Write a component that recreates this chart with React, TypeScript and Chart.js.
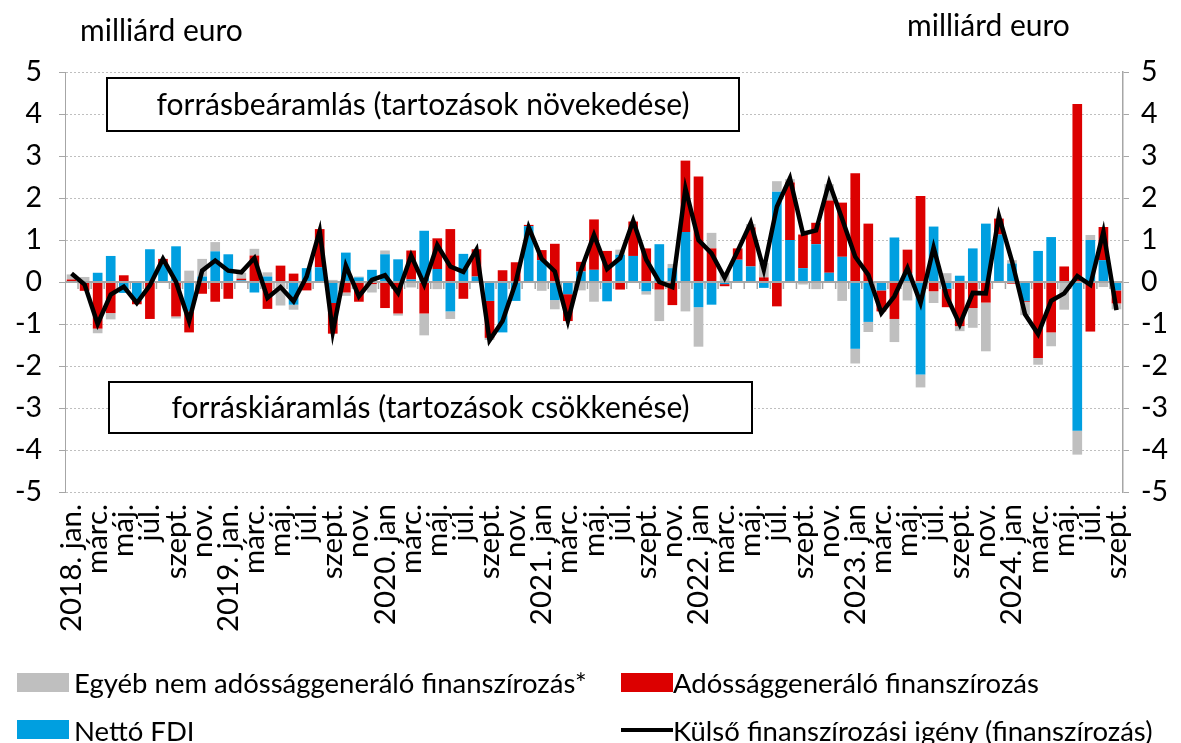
import React, { useEffect, useRef } from 'react';
import { Chart, registerables } from 'chart.js';

Chart.register(...registerables);

const FONT = 'Lato, "Open Sans", sans-serif';

const categories = [
  '2018. jan.', 'febr.', 'márc.', 'ápr.', 'máj.', 'jún.', 'júl.', 'aug.', 'szept.', 'okt.', 'nov.', 'dec.',
  '2019. jan.', 'febr.', 'márc.', 'ápr.', 'máj.', 'jún.', 'júl.', 'aug.', 'szept.', 'okt.', 'nov.', 'dec.',
  '2020. jan', 'febr.', 'márc.', 'ápr.', 'máj.', 'jún.', 'júl.', 'aug.', 'szept.', 'okt.', 'nov.', 'dec.',
  '2021. jan', 'febr.', 'márc.', 'ápr.', 'máj.', 'jún.', 'júl.', 'aug.', 'szept.', 'okt.', 'nov.', 'dec.',
  '2022. jan', 'febr.', 'márc.', 'ápr.', 'máj.', 'jún.', 'júl.', 'aug.', 'szept.', 'okt.', 'nov.', 'dec.',
  '2023. jan', 'febr.', 'márc.', 'ápr.', 'máj.', 'jún.', 'júl.', 'aug.', 'szept.', 'okt.', 'nov.', 'dec.',
  '2024. jan', 'febr.', 'márc.', 'ápr.', 'máj.', 'jún.', 'júl.', 'aug.', 'szept.',
];

// Nettó FDI
const fdi = [
  0.02, 0.0, 0.22, 0.62, -0.26, -0.45, 0.78, 0.42, 0.85, -0.7, 0.13, 0.73,
  0.66, 0.04, -0.25, 0.13, 0.0, -0.54, 0.33, 0.35, -0.5, 0.7, 0.11, 0.29,
  0.66, 0.54, 0.06, 1.22, 0.31, -0.7, 0.67, 0.13, -0.45, -1.2, -0.45, 1.33,
  0.52, -0.43, -0.29, 0.25, 0.29, -0.46, 0.65, 0.62, -0.22, 0.9, 0.33, 1.19,
  -0.6, -0.54, -0.05, 0.53, 0.37, -0.14, 2.15, 1.0, 0.33, 0.9, 0.22, 0.6,
  -1.59, -0.95, -0.2, 1.06, 0.2, -2.2, 1.32, -0.16, 0.15, 0.8, 1.39, 1.13,
  0.44, -0.45, 0.74, 1.07, 0.0, -3.54, 1.0, 0.52, -0.2,
];

// Adóssággeneráló finanszírozás
const debt = [
  0.04, -0.21, -1.11, -0.74, 0.16, -0.08, -0.88, 0.13, -0.82, -0.5, -0.28, -0.47,
  -0.4, 0.04, 0.63, -0.64, 0.39, 0.2, -0.2, 0.91, -0.73, -0.25, -0.47, -0.05,
  -0.62, -0.75, 0.69, -0.75, 0.73, 1.26, -0.4, 0.65, -0.88, 0.28, 0.47, 0.03,
  0.24, 0.91, -0.64, 0.23, 1.2, 0.74, -0.18, 0.82, 0.8, -0.18, -0.55, 1.7,
  2.51, 0.8, -0.05, 0.27, 0.93, 0.11, -0.58, 1.37, 0.8, 0.51, 1.72, 1.29,
  2.59, 1.39, -0.5, -0.88, 0.57, 2.05, -0.22, -0.44, -1.05, -0.62, -0.49, 0.38,
  -0.04, -0.02, -1.81, -1.2, 0.37, 4.24, -1.18, 0.79, -0.31,
];

// Egyéb nem adóssággeneráló finanszírozás*
const other = [
  0.12, 0.12, -0.11, -0.15, 0.0, 0.0, 0.0, 0.0, -0.05, 0.27, 0.42, 0.22,
  0.0, 0.14, 0.16, 0.1, -0.56, -0.12, 0.0, -0.02, 0.05, -0.08, 0.02, -0.2,
  0.09, -0.05, -0.13, -0.52, -0.17, -0.18, 0.0, 0.0, -0.05, 0.0, 0.0, 0.0,
  -0.21, -0.22, 0.0, -0.2, -0.47, 0.0, 0.12, 0.0, -0.08, -0.75, 0.1, -0.7,
  -0.94, 0.37, 0.2, 0.0, 0.08, 0.34, 0.25, 0.08, -0.06, -0.17, 0.39, -0.45,
  -0.35, -0.24, 0.0, -0.55, -0.44, -0.31, -0.28, 0.21, -0.12, -0.47, -1.16, 0.0,
  0.08, -0.32, -0.16, -0.33, -0.66, -0.57, 0.12, -0.12, -0.14,
];

// Külső finanszírozási igény (finanszírozás)
const need = [
  0.2, -0.06, -1.0, -0.3, -0.11, -0.5, -0.08, 0.55, 0.0, -0.93, 0.27, 0.51,
  0.27, 0.23, 0.57, -0.38, -0.12, -0.46, 0.13, 1.22, -1.19, 0.39, -0.34, 0.05,
  0.16, -0.26, 0.63, -0.06, 0.88, 0.37, 0.24, 0.77, -1.39, -0.93, -0.02, 1.3,
  0.55, 0.25, -0.93, 0.28, 1.12, 0.31, 0.57, 1.46, 0.53, 0.0, -0.12, 2.23,
  1.0, 0.68, 0.1, 0.74, 1.41, 0.29, 1.79, 2.47, 1.15, 1.23, 2.37, 1.5,
  0.6, 0.17, -0.74, -0.34, 0.33, -0.5, 0.82, -0.34, -1.01, -0.26, -0.27, 1.57,
  0.5, -0.77, -1.24, -0.45, -0.27, 0.14, -0.07, 1.2, -0.67,
];

const yMin = -5;
const yMax = 5;

const COLOR_FDI = '#009FE0';
const COLOR_DEBT = '#DC0000';
const COLOR_OTHER = '#BFBFBF';
const COLOR_LINE = '#000000';

const decorPlugin = {
  id: 'decor',
  beforeDatasetsDraw(chart: any) {
    const { ctx } = chart;
    ctx.save();
    const boxes = [
      { x: 107, y: 78, w: 632, h: 53, text: 'forrásbeáramlás (tartozások növekedése)' },
      { x: 109, y: 382, w: 643, h: 51, text: 'forráskiáramlás (tartozások csökkenése)' },
    ];
    for (const b of boxes) {
      ctx.fillStyle = '#ffffff';
      ctx.fillRect(b.x, b.y, b.w, b.h);
      ctx.strokeStyle = '#000000';
      ctx.lineWidth = 2;
      ctx.strokeRect(b.x, b.y, b.w, b.h);
      ctx.fillStyle = '#000000';
      ctx.font = `30px ${FONT}`;
      ctx.textAlign = 'center';
      ctx.textBaseline = 'middle';
      ctx.fillText(b.text, b.x + b.w / 2, b.y + b.h / 2 + 1);
    }
    ctx.restore();
  },
  beforeDatasetDraw(chart: any, args: any) {
    if (args.index !== 3) return;
    const { ctx, chartArea, scales } = chart;
    const x = scales.x;
    const y = scales.y;
    const y0 = y.getPixelForValue(0);
    ctx.save();
    ctx.strokeStyle = '#A6A6A6';
    ctx.lineWidth = 2;
    ctx.beginPath();
    ctx.moveTo(chartArea.left, y0);
    ctx.lineTo(chartArea.right, y0);
    ctx.stroke();
    ctx.lineWidth = 1.5;
    for (let i = 1; i < categories.length; i++) {
      const px = (x.getPixelForValue(i - 1) + x.getPixelForValue(i)) / 2;
      ctx.beginPath();
      ctx.moveTo(px, y0);
      ctx.lineTo(px, y0 + 7);
      ctx.stroke();
    }
    ctx.restore();
  },
};

export default function App() {
  const ref = useRef<HTMLCanvasElement>(null);

  useEffect(() => {
    if (!ref.current) return;
    const chart = new Chart(ref.current, {
      type: 'bar',
      data: {
        labels: categories,
        datasets: [
          { label: 'Nettó FDI', data: fdi, backgroundColor: COLOR_FDI, stack: 'bars', order: 1 },
          { label: 'Adóssággeneráló finanszírozás', data: debt, backgroundColor: COLOR_DEBT, stack: 'bars', order: 1 },
          { label: 'Egyéb nem adóssággeneráló finanszírozás*', data: other, backgroundColor: COLOR_OTHER, stack: 'bars', order: 1 },
          {
            type: 'line' as const,
            label: 'Külső finanszírozási igény (finanszírozás)',
            data: need,
            borderColor: COLOR_LINE,
            backgroundColor: COLOR_LINE,
            borderWidth: 4.5,
            pointRadius: 0,
            tension: 0,
            stack: 'line',
            order: 0,
          },
        ],
      },
      options: {
        animation: false,
        responsive: false,
        maintainAspectRatio: false,
        datasets: { bar: { categoryPercentage: 1, barPercentage: 0.74 } },
        layout: { padding: { top: 72, left: 0, right: 0, bottom: 0 } },
        plugins: { legend: { display: false }, tooltip: { enabled: false } },
        scales: {
          x: {
            type: 'category',
            offset: true,
            stacked: true,
            grid: { display: false },
            border: { display: false },
            ticks: {
              autoSkip: false,
              maxRotation: 90,
              minRotation: 90,
              padding: 4,
              color: '#000',
              font: { family: FONT, size: 29.5 },
              callback: (_v: any, i: number) => (i % 2 === 0 ? categories[i] : ''),
            },
            afterFit: (s: any) => { s.height = 251; },
          },
          y: {
            position: 'left',
            stacked: true,
            min: yMin,
            max: yMax,
            ticks: { stepSize: 1, color: '#000', padding: 17, font: { family: FONT, size: 28.5 } },
            grid: {
              color: (c: any) => (c.tick && c.tick.value === 0 ? 'rgba(0,0,0,0)' : '#BFBFBF'),
              tickColor: '#A6A6A6',
              tickLength: 6,
              lineWidth: 1,
            },
            border: { display: true, color: '#A6A6A6', width: 1, dash: [2, 2] },
            afterFit: (s: any) => { s.width = 65; },
          },
          y2: {
            position: 'right',
            min: yMin,
            max: yMax,
            ticks: { stepSize: 1, color: '#000', padding: 12, font: { family: FONT, size: 28.5 } },
            grid: { drawOnChartArea: false, tickColor: '#A6A6A6', tickLength: 6 },
            border: { display: true, color: '#A6A6A6', width: 1.5 },
            afterFit: (s: any) => { s.width = 58; },
          },
        },
      },
      plugins: [decorPlugin],
    });
    return () => chart.destroy();
  }, []);

  const textStyle: React.CSSProperties = { position: 'absolute', fontFamily: FONT, fontSize: 27.5, color: '#000', whiteSpace: 'nowrap', lineHeight: '30px' };
  const sw = (left: number, top: number, color: string): React.CSSProperties => ({ position: 'absolute', left, top, width: 52, height: 19, background: color });

  return (
    <div style={{ position: 'absolute', left: 0, top: 0, width: 1181, height: 743, overflow: 'hidden', background: '#fff' }}>
      <canvas ref={ref} width={1181} height={743} style={{ position: 'absolute', left: 0, top: 0 }} />
      <div style={{ ...textStyle, fontSize: 30, left: 80, top: 14 }}>milliárd euro</div>
      <div style={{ ...textStyle, fontSize: 30, left: 907, top: 9 }}>milliárd euro</div>
      <div style={sw(17, 673, COLOR_OTHER)} />
      <div style={{ ...textStyle, left: 74, top: 668 }}>Egyéb nem adóssággeneráló finanszírozás*</div>
      <div style={sw(621, 673, COLOR_DEBT)} />
      <div style={{ ...textStyle, left: 673, top: 668 }}>Adóssággeneráló finanszírozás</div>
      <div style={sw(17, 720, COLOR_FDI)} />
      <div style={{ ...textStyle, left: 74, top: 716 }}>Nettó FDI</div>
      <div style={{ position: 'absolute', left: 621, top: 728, width: 52, height: 4, background: COLOR_LINE }} />
      <div style={{ ...textStyle, left: 673, top: 716 }}>Külső finanszírozási igény (finanszírozás)</div>
    </div>
  );
}
